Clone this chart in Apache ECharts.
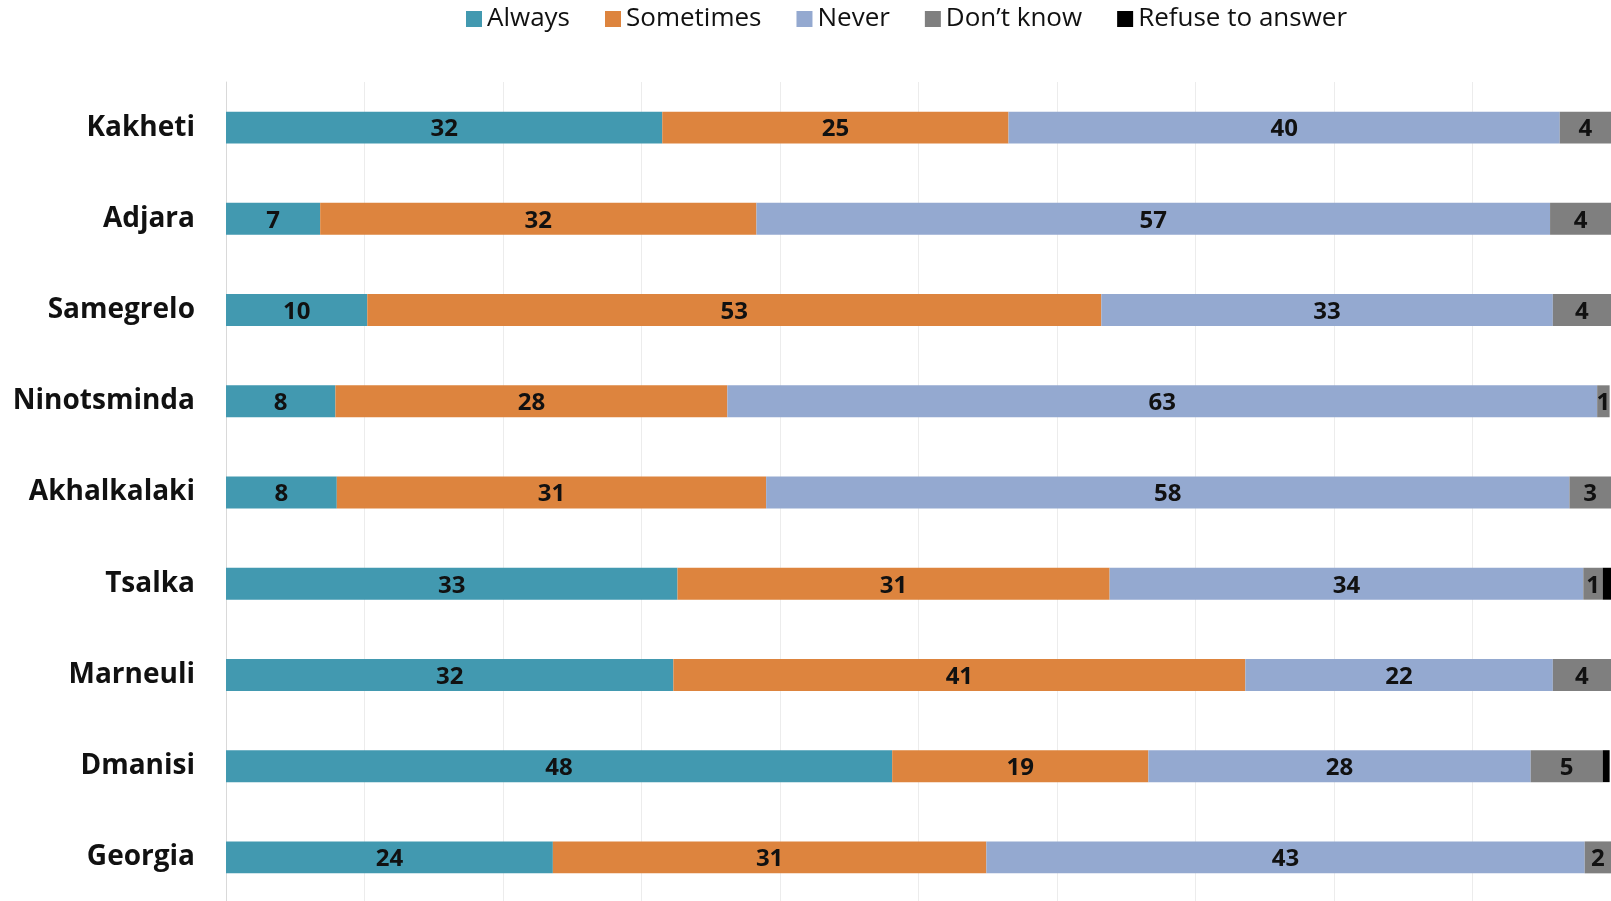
<!DOCTYPE html>
<html lang="en">
<head>
<meta charset="UTF-8">
<title>Stacked bars</title>
<script src="https://cdn.jsdelivr.net/npm/echarts@6/dist/echarts.min.js"></script>
<style>
  body, html { margin: 0; padding: 0; height: 100%; background: #fff; }
  #main { width: 1611px; height: 901px; }
</style>
</head>
<body>
<div id="main"></div>
<script>
// regions, top to bottom
const regions = ["Kakheti", "Adjara", "Samegrelo", "Ninotsminda", "Akhalkalaki", "Tsalka", "Marneuli", "Dmanisi", "Georgia"];

// shares in % (labels show them rounded)
const always    = [31.5,  6.8, 10.2,  7.9,  8.0, 32.6, 32.3, 48.1, 23.6];
const sometimes = [25.0, 31.5, 53.0, 28.3, 31.0, 31.2, 41.3, 18.5, 31.3];
const never     = [39.8, 57.3, 32.6, 62.8, 58.0, 34.2, 22.2, 27.6, 43.2];
const dontKnow  = [ 3.7,  4.4,  4.2,  0.9,  3.0,  1.4,  4.2,  5.2,  1.9];
const refuse    = [ 0,    0,    0,    0,    0,    0.6,  0,    0.5,  0];

const xTicks = [0, 10, 20, 30, 40, 50, 60, 70, 80, 90, 100];

const font = "Open Sans";

function seg(name, data, color, showLabel) {
    return {
        name: name,
        type: "bar",
        stack: "all",
        data: data,
        barWidth: "35%",
        itemStyle: { color: color },
        label: {
            show: showLabel,
            position: "inside",
            offset: [0, 2],
            color: "#111",
            fontFamily: font,
            fontWeight: "bold",
            fontSize: 24,
            formatter: (p) => Math.round(p.value),
        },
        emphasis: { disabled: true },
    };
}

var myChart = echarts.init(document.getElementById("main"));

var option = {
    animation: false,
    legend: {
        top: 1,
        left: 461,
        itemWidth: 16,
        itemHeight: 16,
        itemGap: 35,
        icon: "rect",
        textStyle: { fontFamily: font, fontSize: 26, color: "#111" },
    },
    // plot runs past the bottom edge of the picture, like the source crop
    grid: {
        left: 226,
        top: 82,
        width: 1385,
        height: 821,
        outerBoundsMode: "none",
    },
    xAxis: {
        type: "value",
        min: xTicks[0],
        max: xTicks[xTicks.length - 1],
        interval: 10,
        axisLabel: { show: false },
        axisLine: { show: false },
        axisTick: { show: false },
        splitLine: { lineStyle: { color: "#ececec", width: 1 } },
    },
    yAxis: {
        type: "category",
        data: regions,
        inverse: true,
        axisTick: { show: false },
        axisLine: { lineStyle: { color: "#d9d9d9", width: 1 } },
        axisLabel: {
            margin: 31,
            padding: [0, 0, 0, 0],
            fontFamily: font,
            fontWeight: "bold",
            fontSize: 28,
            color: "#111",
        },
    },
    series: [
        seg("Always", always, "#4299b0", true),
        seg("Sometimes", sometimes, "#dd843e", true),
        seg("Never", never, "#94a9d0", true),
        seg("Don\u2019t know", dontKnow, "#7f7f7f", true),
        seg("Refuse to answer", refuse, "#000000", false),
    ],
};

myChart.setOption(option);
</script>
</body>
</html>
